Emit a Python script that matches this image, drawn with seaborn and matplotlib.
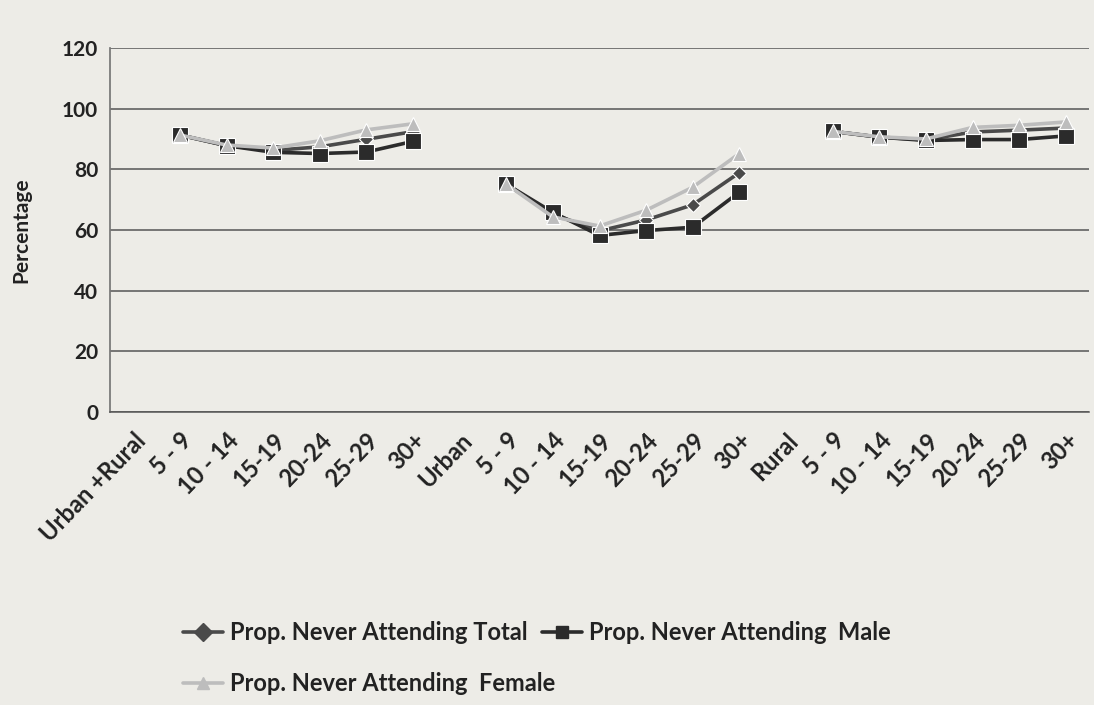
import numpy as np
import pandas as pd
import matplotlib
matplotlib.use("Agg")
import matplotlib.pyplot as plt
import seaborn as sns
from matplotlib.lines import Line2D

categories = ["Urban +Rural", "5 - 9", "10 - 14", "15-19", "20-24", "25-29", "30+",
              "Urban", "5 - 9", "10 - 14", "15-19", "20-24", "25-29", "30+",
              "Rural", "5 - 9", "10 - 14", "15-19", "20-24", "25-29", "30+"]
groups = ["UR"] * 7 + ["U"] * 7 + ["R"] * 7
nan = np.nan
total = [nan, 91.3, 87.8, 86.2, 87.4, 89.9, 92.4,
         nan, 75.1, 65.2, 59.7, 63.3, 68.3, 78.9,
         nan, 92.5, 90.6, 89.7, 92.3, 92.9, 93.6]
male = [nan, 91.3, 87.8, 85.6, 85.2, 85.7, 89.2,
        nan, 75.1, 65.8, 58.2, 59.8, 60.9, 72.5,
        nan, 92.5, 90.6, 89.5, 89.8, 89.8, 91.0]
female = [nan, 91.3, 88.0, 87.0, 89.4, 93.0, 95.0,
          nan, 75.1, 64.3, 61.3, 66.5, 74.1, 85.2,
          nan, 92.5, 90.7, 90.0, 93.8, 94.5, 95.6]
series_names = ["Prop. Never Attending Total", "Prop. Never Attending  Male",
                "Prop. Never Attending  Female"]

rows = []
for name, vals in zip(series_names, [total, male, female]):
    for i, (g, v) in enumerate(zip(groups, vals)):
        if not np.isnan(v):
            rows.append({"pos": i, "value": v, "series": name, "group": g})
df = pd.DataFrame(rows)

sns.set_theme(style="white")
plt.rcParams["font.family"] = ["Lato", "DejaVu Sans"]
bg = "#edece7"
fig = plt.figure(figsize=(10.94, 7.05), dpi=100, facecolor=bg)
ax = fig.add_axes([0.1005, 0.4156, 0.895, 0.5164], facecolor=bg)

palette = {series_names[0]: "#4a4a4a", series_names[1]: "#2b2b2b", series_names[2]: "#bdbdbd"}
markers = {series_names[0]: "D", series_names[1]: "s", series_names[2]: "^"}
sns.lineplot(data=df, x="pos", y="value", hue="series", style="series",
             units="group", estimator=None, hue_order=series_names,
             style_order=series_names, palette=palette, markers=markers,
             dashes=False, linewidth=2.6, markersize=10, markeredgewidth=0.8,
             ax=ax, legend=False)
for line in ax.get_lines():
    m = line.get_marker()
    if m == "D":
        line.set_markersize(7)
    elif m == "s":
        line.set_markersize(11)
    elif m == "^":
        line.set_markersize(10)

ax.set_xlim(-0.5, len(categories) - 0.5)
ax.set_ylim(0, 120)
ax.set_yticks(range(0, 121, 20))
ax.yaxis.grid(True, color="#555555", linewidth=1.1)
ax.set_axisbelow(True)
for s in ["top", "right"]:
    ax.spines[s].set_visible(False)
ax.spines["left"].set_color("#777777")
ax.spines["bottom"].set_color("#555555")
ax.spines["bottom"].set_linewidth(1.1)

ax.set_xticks(np.arange(len(categories)))
ax.set_xticklabels(categories, rotation=46, ha="right", rotation_mode="anchor",
                   fontsize=17, fontweight="bold", color="#222222")
ax.set_xticks(np.arange(len(categories) + 1) - 0.5, minor=True)
ax.tick_params(axis="x", which="major", length=0, pad=12)
ax.tick_params(axis="x", which="minor", length=5, color="#777777", direction="out")
ax.tick_params(axis="y", length=5, color="#777777", direction="out", labelsize=15,
               labelcolor="#222222")
for t in ax.get_yticklabels():
    t.set_fontweight("bold")
ax.set_xlabel("")
ax.set_ylabel("Percentage", fontsize=15, fontweight="bold", color="#222222", labelpad=22)

handles = {}
for name in series_names:
    handles[name] = Line2D([0], [0], color=palette[name], marker=markers[name],
                           linewidth=2.6, markersize=9)
legprop = {"size": 17, "weight": "bold", "family": ["Lato", "DejaVu Sans"]}
leg1 = fig.legend([handles[series_names[0]], handles[series_names[1]]],
                  [series_names[0], series_names[1]], loc="center left",
                  bbox_to_anchor=(0.148, 0.103), ncol=2, frameon=False, prop=legprop,
                  handlelength=1.7, handletextpad=0.3, columnspacing=0.6)
leg2 = fig.legend([handles[series_names[2]]], [series_names[2]], loc="center left",
                  bbox_to_anchor=(0.148, 0.03), ncol=1, frameon=False, prop=legprop,
                  handlelength=1.7, handletextpad=0.3)
for lg in (leg1, leg2):
    for t in lg.get_texts():
        t.set_color("#222222")

fig.savefig("out.png", dpi=100, facecolor=bg)
